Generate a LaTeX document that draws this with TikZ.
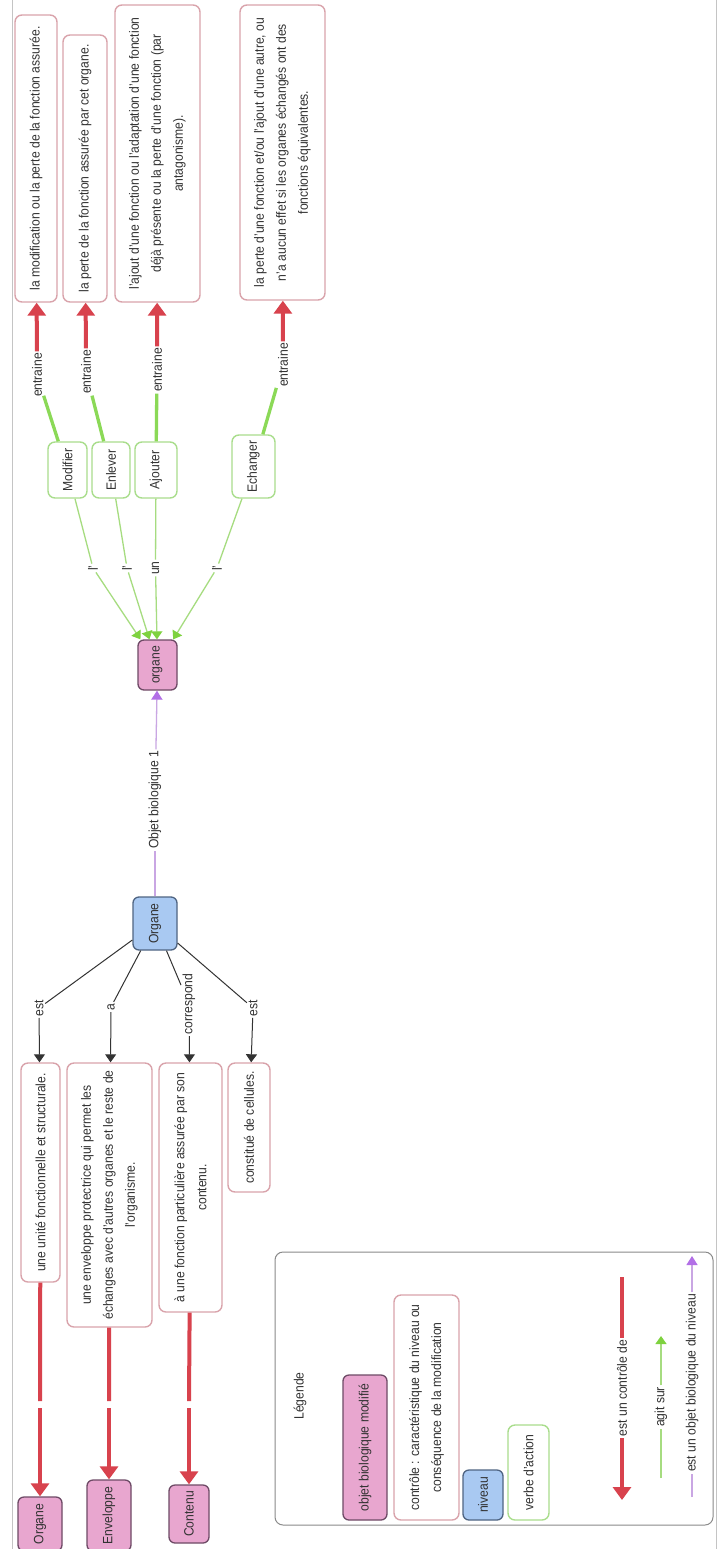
\documentclass[tikz,border=0pt]{standalone}
\usepackage{fontspec}
\setmainfont{Liberation Sans}[FakeStretch=0.9]
\usetikzlibrary{arrows.meta,calc}

\definecolor{pinkfill}{HTML}{E8A6CF}
\definecolor{pinkdraw}{HTML}{6E4A66}
\definecolor{bluefill}{HTML}{A9C9F2}
\definecolor{bluedraw}{HTML}{4F6482}
\definecolor{boxdraw}{HTML}{D9A3AB}
\definecolor{verbdraw}{HTML}{A9DD8C}
\definecolor{redlink}{HTML}{D8424D}
\definecolor{greenthick}{HTML}{8BD957}
\definecolor{greenthin}{HTML}{A6DC80}
\definecolor{greentip}{HTML}{7ED23F}
\definecolor{purplelink}{HTML}{C9A6E3}
\definecolor{purpletip}{HTML}{B26FE6}
\definecolor{txt}{HTML}{333333}
\definecolor{framecol}{HTML}{C4C4C4}
\definecolor{legdraw}{HTML}{8A8A8A}

\tikzset{
  base/.style={rotate=90, align=center, inner sep=0pt,
    font=\fontsize{13.5}{22}\selectfont, text=txt},
  pinknode/.style={base, rounded corners=6pt, fill=pinkfill, draw=pinkdraw, line width=1.3pt},
  bluenode/.style={base, rounded corners=6pt, fill=bluefill, draw=bluedraw, line width=1.3pt},
  textbox/.style={base, rounded corners=7pt, fill=white, draw=boxdraw, line width=1.4pt},
  verbbox/.style={base, rounded corners=7pt, fill=white, draw=verbdraw, line width=1.4pt},
  lab/.style={base, fill=white, inner sep=1.5pt},
  legendbox/.style={draw=legdraw, rounded corners=8pt, line width=1pt},
  redline/.style={draw=redlink, line width=4pt},
  redarrow/.style={redline, -{Triangle[width=18pt,length=13pt]}},
  greenthickline/.style={draw=greenthick, line width=3.3pt},
  greenarrow/.style={draw=greenthin, line width=1.3pt, -{Triangle[width=11pt,length=8pt,color=greentip]}},
  greenline/.style={draw=greenthin, line width=1.3pt},
  blackline/.style={draw=black!80, line width=1pt},
  blackarrow/.style={blackline, -{Triangle[width=11pt,length=8pt]}},
  purpleline/.style={draw=purplelink, line width=1.3pt},
  purplearrow/.style={purpleline, -{Triangle[width=11pt,length=9pt,color=purpletip]}},
}

\begin{document}
\begin{tikzpicture}[x=1pt,y=-1pt]
\useasboundingbox (0,0) rectangle (720,1549);
\fill[white] (0,0) rectangle (720,1549);
\draw[framecol, line width=1pt] (12,0) -- (12,1549);
\draw[framecol, line width=1pt] (716,0) -- (716,1549);

% top consequence boxes
\node[textbox, minimum width=287pt, minimum height=42pt] (T1) at (36,158.5) {la modification ou la perte de la fonction assurée.};
\node[textbox, minimum width=267pt, minimum height=44pt] (T2) at (85,168.5) {la perte de la fonction assurée par cet organe.};
\node[textbox, minimum width=297pt, minimum height=85pt] (T3) at (157.5,153.5) {l'ajout d'une fonction ou l'adaptation d'une fonction\\déjà présente ou la perte d'une fonction (par\\antagonisme).};
\node[textbox, minimum width=295pt, minimum height=85pt] (T4) at (282.5,152.5) {la perte d'une fonction et/ou l'ajout d'une autre, ou\\n'a aucun effet si les organes échangés ont des\\fonctions équivalentes.};

% entraine labels
\node[lab] (E1) at (37,375) {entraine};
\node[lab] (E2) at (86,372) {entraine};
\node[lab] (E3) at (157,370) {entraine};
\node[lab] (E4) at (283,365) {entraine};

% verbs
\node[verbbox, minimum width=56pt, minimum height=39pt] (V1) at (67.5,470) {Modifier};
\node[verbbox, minimum width=56pt, minimum height=38pt] (V2) at (111,470) {Enlever};
\node[verbbox, minimum width=56pt, minimum height=42pt] (V3) at (156,470) {Ajouter};
\node[verbbox, minimum width=63pt, minimum height=43pt] (V4) at (253.5,466.5) {Echanger};

% verb link labels
\node[lab] (L1) at (93,568) {l'};
\node[lab] (L2) at (127,568) {l'};
\node[lab] (L3) at (155.5,568) {un};
\node[lab] (L4) at (217,568) {l'};

% organe (modified object)
\node[pinknode, minimum width=50pt, minimum height=39pt] (org) at (157.5,665) {organe};
\node[lab] (OB) at (155,800) {Objet biologique 1};
\node[bluenode, minimum width=53pt, minimum height=44pt] (Org) at (155,923.5) {Organe};

% link labels from Organe
\node[lab] (A1) at (39,1008) {est};
\node[lab] (A2) at (111,1007) {a};
\node[lab] (A3) at (189,1004) {correspond};
\node[lab] (A4) at (253,1008) {est};

% characteristic boxes
\node[textbox, minimum width=219pt, minimum height=39pt] (U1) at (40.5,1172.5) {une unité fonctionnelle et structurale.};
\node[textbox, minimum width=264pt, minimum height=85pt] (U2) at (109.5,1195) {une enveloppe protectrice qui permet les\\échanges avec d'autres organes et le reste de\\l'organisme.};
\node[textbox, minimum width=249pt, minimum height=63pt] (U3) at (190.5,1187.5) {à une fonction particulière assurée par son\\contenu.};
\node[textbox, minimum width=129pt, minimum height=42pt] (U4) at (249,1127.5) {constitué de cellules.};

% bottom objects
\node[pinknode, minimum width=54pt, minimum height=44pt] (pO) at (40,1524) {Organe};
\node[pinknode, minimum width=71pt, minimum height=44pt] (pE) at (109,1515.5) {Enveloppe};
\node[pinknode, minimum width=58pt, minimum height=40pt] (pC) at (189,1514) {Contenu};

\coordinate (g1a) at (40,1401);  \coordinate (g1b) at (40,1408);
\coordinate (g2a) at (109,1401); \coordinate (g2b) at (109,1408);
\coordinate (g3a) at (189,1401); \coordinate (g3b) at (189,1408);

% connectors: verbs -> entraine -> boxes
\draw[greenthickline] (V1) -- (E1);
\draw[greenthickline] (V2) -- (E2);
\draw[greenthickline] (V3) -- (E3);
\draw[greenthickline] (V4) -- (E4);
\draw[redarrow] (E1) -- (T1);
\draw[redarrow] (E2) -- (T2);
\draw[redarrow] (E3) -- (T3);
\draw[redarrow] (E4) -- (T4);

% verbs -> organe
\draw[greenline] (V1) -- (L1);
\draw[greenline] (V2) -- (L2);
\draw[greenline] (V3) -- (L3);
\draw[greenline] (V4) -- (L4);
\draw[greenarrow] (L1) -- (org);
\draw[greenarrow] (L2) -- (org);
\draw[greenarrow] (L3) -- (org);
\draw[greenarrow] (L4) -- (org);

% Organe -> organe
\draw[purpleline] (Org) -- (OB);
\draw[purplearrow] (OB) -- (org);

% Organe -> characteristics
\draw[blackline] (Org) -- (A1);
\draw[blackline] (Org) -- (A2);
\draw[blackline] (Org) -- (A3);
\draw[blackline] (Org) -- (A4);
\draw[blackarrow] (A1) -- (U1);
\draw[blackarrow] (A2) -- (U2);
\draw[blackarrow] (A3) -- (U3);
\draw[blackarrow] (A4) -- (U4);

% characteristics -> objects
\draw[redline] (U1) -- (g1a);
\draw[redarrow] (g1b) -- (pO);
\draw[redline] (U2) -- (g2a);
\draw[redarrow] (g2b) -- (pE);
\draw[redline] (U3) -- (g3a);
\draw[redarrow] (g3b) -- (pC);

% legend
\node[legendbox, minimum width=438pt, minimum height=273pt] (leg) at (494,1388.5) {};
\node[lab] (LT) at (300,1396) {Légende};
\node[pinknode, minimum width=145pt, minimum height=44pt] (Lp) at (365,1447.5) {objet biologique modifié};
\node[textbox, minimum width=225pt, minimum height=65pt] (Lc) at (426.5,1407.5) {contrôle : caractéristique du niveau ou\\conséquence de la modification};
\node[bluenode, minimum width=50pt, minimum height=40pt] (Lb) at (483,1495) {niveau};
\node[verbbox, minimum width=95pt, minimum height=41pt] (Lv) at (528.5,1472.5) {verbe d'action};

\coordinate (lr1) at (622,1277);
\node[lab] (LR) at (622,1388) {est un contrôle de};
\coordinate (lr2) at (622,1500);
\draw[redline] (lr1) -- (LR);
\draw[redarrow] (LR) -- (lr2);

\coordinate (lg1) at (661,1478);
\node[lab] (LG) at (661,1407) {agit sur};
\coordinate (lg2) at (661,1336);
\draw[greenline] (lg1) -- (LG);
\draw[greenarrow] (LG) -- (lg2);

\coordinate (lp1) at (692,1497);
\node[lab] (LP) at (692,1383) {est un objet biologique du niveau};
\coordinate (lp2) at (692,1256);
\draw[purpleline] (lp1) -- (LP);
\draw[purplearrow] (LP) -- (lp2);
\end{tikzpicture}
\end{document}
